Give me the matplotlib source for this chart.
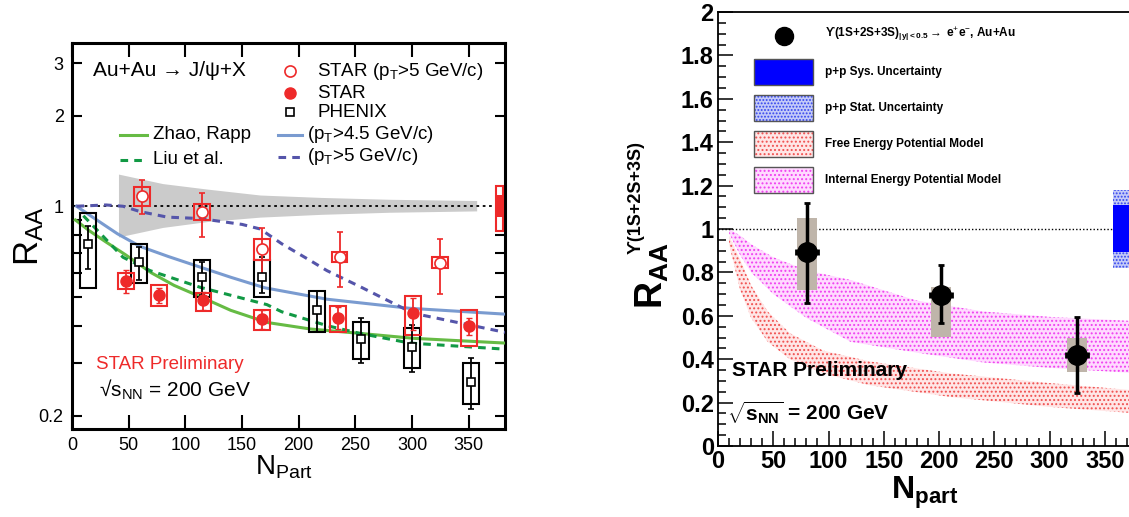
import numpy as np
import matplotlib
matplotlib.use("Agg")
import matplotlib.pyplot as plt
from matplotlib.patches import Rectangle

plt.rcParams['font.family'] = ['Liberation Sans', 'DejaVu Sans']
plt.rcParams['mathtext.fontset'] = 'custom'
plt.rcParams['mathtext.rm'] = 'Liberation Sans'
plt.rcParams['mathtext.it'] = 'Liberation Sans:italic'
plt.rcParams['mathtext.bf'] = 'Liberation Sans:bold'
plt.rcParams['hatch.linewidth'] = 0.9

# ---------------- left panel: J/psi RAA ----------------
star_hi_n = [62, 115, 168, 236, 325]
star_hi_r = [1.08, 0.955, 0.72, 0.676, 0.645]
star_hi_elo = [0.94, 0.79, 0.59, 0.54, 0.51]
star_hi_ehi = [1.22, 1.11, 0.845, 0.82, 0.78]
star_hi_slo = [1.0, 0.898, 0.661, 0.651, 0.621]
star_hi_shi = [1.157, 1.015, 0.776, 0.703, 0.676]

star_n = [48, 77, 116, 168, 235, 301, 350]
star_r = [0.562, 0.505, 0.486, 0.42, 0.423, 0.44, 0.398]
star_elo = [0.513, 0.475, 0.45, 0.39, 0.389, 0.386, 0.372]
star_ehi = [0.612, 0.535, 0.517, 0.45, 0.46, 0.494, 0.423]
star_slo = [0.529, 0.464, 0.447, 0.386, 0.38, 0.372, 0.341]
star_shi = [0.598, 0.545, 0.513, 0.45, 0.464, 0.501, 0.45]

phenix_n = [14, 59, 115, 168, 216, 255, 300, 352]
phenix_r = [0.747, 0.651, 0.58, 0.58, 0.45, 0.36, 0.339, 0.26]
phenix_elo = [0.62, 0.57, 0.505, 0.513, 0.38, 0.30, 0.28, 0.211]
phenix_ehi = [0.86, 0.73, 0.651, 0.676, 0.521, 0.423, 0.401, 0.311]
phenix_slo = [0.533, 0.554, 0.497, 0.497, 0.38, 0.309, 0.29, 0.22]
phenix_shi = [0.947, 0.747, 0.661, 0.661, 0.521, 0.41, 0.392, 0.30]

zhao_n = [3, 15, 30, 47, 70, 90, 113, 140, 172, 210, 254, 301, 382]
zhao_r = [0.90, 0.83, 0.76, 0.69, 0.60, 0.545, 0.50, 0.45, 0.41, 0.39, 0.377, 0.363, 0.35]
liu_n = [10, 28, 45, 69, 113, 172, 185, 225, 254, 298, 382]
liu_r = [0.93, 0.79, 0.676, 0.61, 0.537, 0.47, 0.445, 0.40, 0.377, 0.35, 0.334]
blue_n = [4, 20, 40, 60, 85, 113, 140, 170, 225, 298, 382]
blue_r = [1.0, 0.91, 0.81, 0.735, 0.68, 0.627, 0.58, 0.535, 0.49, 0.457, 0.437]
bdash_n = [4, 30, 45, 60, 84, 113, 150, 166, 185, 210, 225, 254, 301, 382]
bdash_r = [1.0, 1.01, 1.0, 0.96, 0.92, 0.91, 0.87, 0.84, 0.75, 0.66, 0.61, 0.54, 0.44, 0.38]

band_n = [41, 80, 120, 166, 220, 280, 357]
band_hi = [1.28, 1.19, 1.14, 1.09, 1.07, 1.055, 1.045]
band_lo = [0.79, 0.85, 0.89, 0.92, 0.94, 0.955, 0.965]

norm_n = [377]
norm_sys = (0.83, 1.17)
norm_stat = (0.92, 1.09)

# ---------------- right panel: Upsilon RAA ----------------
ups_n = [80.5, 201.6, 324.6]
ups_r = [0.894, 0.696, 0.419]
ups_elo = [0.66, 0.567, 0.244]
ups_ehi = [1.12, 0.834, 0.595]
ups_slo = [0.72, 0.502, 0.341]
ups_shi = [1.05, 0.733, 0.498]
ups_xerr = [10, 10, 10]

int_n = [10, 20, 30, 50, 80, 120, 180, 240, 300, 380]
int_hi = [1.0, 0.97, 0.93, 0.87, 0.81, 0.765, 0.67, 0.62, 0.595, 0.575]
int_lo = [0.98, 0.88, 0.80, 0.70, 0.59, 0.48, 0.43, 0.385, 0.36, 0.335]
free_n = [10, 20, 30, 45, 65, 95, 137, 210, 300, 380]
free_hi = [0.97, 0.86, 0.74, 0.62, 0.52, 0.44, 0.39, 0.335, 0.29, 0.255]
free_lo = [0.93, 0.72, 0.59, 0.48, 0.40, 0.335, 0.28, 0.226, 0.18, 0.15]

pp_n = [357, 385]
pp_sys = (0.894, 1.11)
pp_stat = (0.82, 1.18)

RED = '#ee2a2a'
GREEN = '#66bb44'
DGREEN = '#119944'
LBLUE = '#7a9bd0'
DBLUE = '#5555aa'
MAG = '#f040f0'
FRED = '#f05050'
MAG_FC = (1.0, 0.82, 1.0, 0.8)
RED_FC = (1.0, 0.88, 0.88, 0.8)
STAT_FC = '#c4caf8'

fig = plt.figure(figsize=(11.29, 5.17), dpi=100)

# ======== left ========
ax = fig.add_axes([72/1129, 88/517, 433/1129, 386/517])
ax.set_yscale('log')
ax.set_xlim(0, 382)
ax.set_ylim(0.181, 3.5)

ax.fill_between(band_n, band_lo, band_hi, color='#cbcbcb', lw=0, zorder=1)
ax.axhline(1.0, color='black', ls=(0, (1.5, 2)), lw=1.3, zorder=2)

ax.plot(zhao_n, zhao_r, color=GREEN, lw=2.2, zorder=3)
ax.plot(liu_n, liu_r, color=DGREEN, lw=2.2, ls=(0, (2.5, 2)), zorder=3)
ax.plot(blue_n, blue_r, color=LBLUE, lw=2.2, zorder=3)
ax.plot(bdash_n, bdash_r, color=DBLUE, lw=2.2, ls=(0, (2.5, 2)), zorder=3)

hw = 7
def sysboxes(a, n, lo, hi, col, width):
    lo = np.array(lo); hi = np.array(hi)
    a.bar(n, hi - lo, bottom=lo, width=width, fill=False, edgecolor=col, lw=1.5, zorder=4)

sysboxes(ax, phenix_n, phenix_slo, phenix_shi, 'black', 2 * hw)
sysboxes(ax, star_hi_n, star_hi_slo, star_hi_shi, RED, 2 * hw)
sysboxes(ax, star_n, star_slo, star_shi, RED, 2 * hw)

def errs(r, lo, hi):
    r = np.array(r)
    return [r - np.array(lo), np.array(hi) - r]

ax.errorbar(phenix_n, phenix_r, yerr=errs(phenix_r, phenix_elo, phenix_ehi), fmt='s',
            mfc='white', mec='black', mew=1.2, ms=6, color='black', lw=1.3, capsize=2, zorder=5)
ax.errorbar(star_hi_n, star_hi_r, yerr=errs(star_hi_r, star_hi_elo, star_hi_ehi), fmt='o',
            mfc='white', mec=RED, mew=1.2, ms=8, color=RED, lw=1.3, capsize=2, zorder=5)
ax.errorbar(star_n, star_r, yerr=errs(star_r, star_elo, star_ehi), fmt='o',
            mfc=RED, mec=RED, ms=8, color=RED, lw=1.3, capsize=2, zorder=5)

# normalisation box at right edge
ax.bar(norm_n, norm_sys[1] - norm_sys[0], bottom=norm_sys[0], width=6, facecolor='white',
       edgecolor=RED, lw=1.5, zorder=6, clip_on=False)
ax.bar(norm_n, norm_stat[1] - norm_stat[0], bottom=norm_stat[0], width=6, facecolor=RED,
       edgecolor=RED, lw=0, zorder=7, clip_on=False)

for s in ax.spines.values():
    s.set_linewidth(2.2)
ax.set_xticks(np.arange(0, 351, 50))
ax.set_xticklabels([str(v) for v in range(0, 351, 50)])
yt = [0.2, 0.3, 0.4, 0.5, 0.6, 0.7, 0.8, 0.9, 1, 2, 3]
ax.set_yticks(yt)
ax.set_yticklabels(['0.2', '', '', '', '', '', '', '', '1', '2', '3'])
ax.minorticks_off()
ax.tick_params(axis='both', which='major', direction='in', top=True, right=True,
               labelsize=13, width=1.5, pad=6)
ax.tick_params(axis='x', length=10)
ax.tick_params(axis='y', length=7)

ax.text(-0.1, 0.5, r'R$_{\rm AA}$', transform=ax.transAxes, rotation=90,
        fontsize=25, ha='center', va='center')
ax.text(0.49, -0.1, r'N$_{\rm Part}$', transform=ax.transAxes, fontsize=20,
        ha='center', va='center')

T = ax.transAxes
ax.text(0.048, 0.930, 'Au+Au \u2192 J/\u03c8+X', transform=T, fontsize=15, va='center')
ax.plot([0.503], [0.927], 'o', mfc='white', mec=RED, mew=1.2, ms=8, transform=T)
ax.text(0.566, 0.927, r'STAR (p$_{\rm T}$>5 GeV/c)', transform=T, fontsize=13.5, va='center')
ax.plot([0.503], [0.870], 'o', color=RED, ms=8, transform=T)
ax.text(0.566, 0.868, 'STAR', transform=T, fontsize=13.5, va='center')
ax.plot([0.503], [0.821], 's', mfc='white', mec='black', mew=1.2, ms=6, transform=T)
ax.text(0.566, 0.819, 'PHENIX', transform=T, fontsize=13.5, va='center')
ax.plot([0.476, 0.531], [0.762, 0.762], color=LBLUE, lw=2.2, transform=T)
ax.text(0.543, 0.762, r'(p$_{\rm T}$>4.5 GeV/c)', transform=T, fontsize=13.5, va='center')
ax.plot([0.476, 0.531], [0.705, 0.705], color=DBLUE, lw=2.2, ls=(0, (2.5, 2)), transform=T)
ax.text(0.543, 0.705, r'(p$_{\rm T}$>5 GeV/c)', transform=T, fontsize=13.5, va='center')
ax.plot([0.111, 0.173], [0.762, 0.762], color=GREEN, lw=2.2, transform=T)
ax.text(0.187, 0.762, 'Zhao, Rapp', transform=T, fontsize=13.5, va='center')
ax.plot([0.111, 0.173], [0.697, 0.697], color=DGREEN, lw=2.2, ls=(0, (2.5, 2)), transform=T)
ax.text(0.187, 0.697, 'Liu et al.', transform=T, fontsize=13.5, va='center')

ax.text(0.055, 0.166, 'STAR Preliminary', transform=T, fontsize=13.5, color=RED, va='center')
ax.text(0.062, 0.101, '\u221as$_{\\rm NN}$ = 200 GeV', transform=T, fontsize=15, va='center')

# ======== right ========
ax2 = fig.add_axes([718/1129, 71/517, 420/1129, 434/517])
ax2.set_xlim(0, 380)
ax2.set_ylim(0, 2)

ax2.fill_between(int_n, int_lo, int_hi, facecolor=MAG_FC, edgecolor=MAG,
                 hatch='....', lw=0, zorder=1)
ax2.fill_between(free_n, free_lo, free_hi, facecolor=RED_FC, edgecolor=FRED,
                 hatch='....', lw=0, zorder=1)
ax2.axhline(1.0, color='black', ls=(0, (1, 1.5)), lw=1.0, zorder=2)

ax2.fill_between(pp_n, [pp_stat[0]] * 2, [pp_stat[1]] * 2, facecolor=STAT_FC, edgecolor='#3344ee',
                 hatch='.....', lw=0, zorder=2)
ax2.fill_between(pp_n, [pp_sys[0]] * 2, [pp_sys[1]] * 2, color='#0000ff', lw=0, zorder=3)

slo = np.array(ups_slo); shi = np.array(ups_shi)
ax2.bar(ups_n, shi - slo, bottom=slo, width=18, color='#bfb5aa', lw=0, zorder=3)
ax2.errorbar(ups_n, ups_r, yerr=errs(ups_r, ups_elo, ups_ehi), xerr=ups_xerr, fmt='o',
             color='black', ms=14, lw=2.5, capsize=2, capthick=2, zorder=5)

for s in ax2.spines.values():
    s.set_linewidth(1.3)
ax2.set_xticks(np.arange(0, 351, 50))
ax2.set_xticks(np.arange(0, 381, 10), minor=True)
ax2.set_yticks(np.arange(0, 2.01, 0.2))
ax2.set_yticks(np.arange(0, 2.01, 0.05), minor=True)
ax2.set_xticklabels([str(v) for v in range(0, 351, 50)])
ax2.set_yticklabels(['0', '0.2', '0.4', '0.6', '0.8', '1', '1.2', '1.4', '1.6', '1.8', '2'])
ax2.tick_params(axis='both', which='both', direction='in', width=1.1)
ax2.tick_params(axis='both', which='major', length=11, labelsize=17, pad=3)
ax2.tick_params(axis='both', which='minor', length=6)
for lab in ax2.get_xticklabels() + ax2.get_yticklabels():
    lab.set_fontweight('bold')

fig.text(652/1129, 1 - 276/517, r'$\mathbf{R_{AA}}$', rotation=90, fontsize=27,
         ha='center', va='center')
fig.text(636/1129, 1 - 198/517, '\u03d2(1S+2S+3S)', rotation=90, fontsize=13,
         fontweight='bold', ha='center', va='center')
fig.text(925/1129, 1 - 493/517, r'$\mathbf{N_{part}}$', fontsize=23, ha='center', va='center')

T2 = ax2.transAxes
ax2.plot([0.157], [0.945], 'o', color='black', ms=13, transform=T2, clip_on=False)
ax2.text(0.255, 0.948, '\u03d2(1S+2S+3S)$_{\\mathbf{|y|<0.5}}$$\\rightarrow$ e$^{+}$e$^{-}$, Au+Au',
         transform=T2, fontsize=8.5, fontweight='bold', va='center')
leg_rows = [0.862, 0.779, 0.696, 0.613]
leg_txt = ['p+p Sys. Uncertainty', 'p+p Stat. Uncertainty',
           'Free Energy Potential Model', 'Internal Energy Potential Model']
leg_fc = ['#0000ff', STAT_FC, RED_FC, MAG_FC]
leg_hc = ['#0000ff', '#3344ee', FRED, MAG]
leg_h = [None, '.....', '....', '....']
for yy, t, fc, hc, h in zip(leg_rows, leg_txt, leg_fc, leg_hc, leg_h):
    ax2.add_patch(Rectangle((0.086, yy - 0.03), 0.14, 0.06, transform=T2, facecolor=fc,
                            edgecolor=hc, hatch=h, lw=0, zorder=6))
    ax2.add_patch(Rectangle((0.086, yy - 0.03), 0.14, 0.06, transform=T2, facecolor='none',
                            edgecolor='#555555', lw=1.0, zorder=7))
    ax2.text(0.255, yy, t, transform=T2, fontsize=8.5, fontweight='bold', va='center')

ax2.text(0.033, 0.175, 'STAR Preliminary', transform=T2, fontsize=15, fontweight='bold', va='center')
ax2.text(0.021, 0.076, r'$\mathbf{\sqrt{s_{NN}}}$ = 200 GeV', transform=T2, fontsize=15,
         fontweight='bold', va='center')

fig.savefig('out.png', dpi=100)
